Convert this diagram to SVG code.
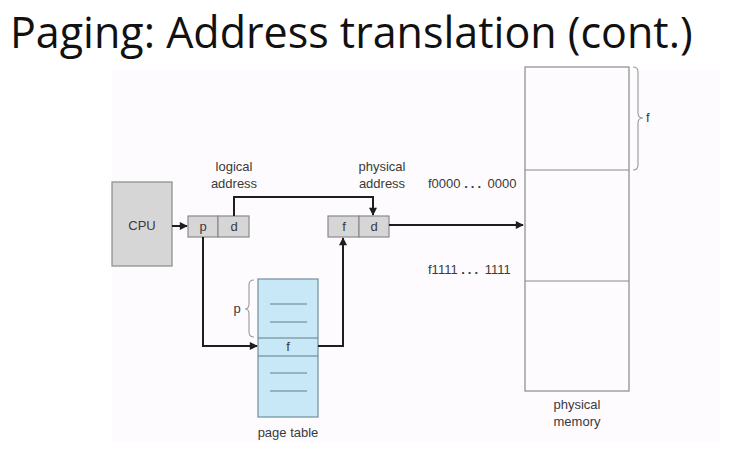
<svg xmlns="http://www.w3.org/2000/svg" width="736" height="449" viewBox="0 0 736 449">
  <style>
    .title { font-family: "Open Sans", "Noto Sans", sans-serif; font-size: 43px; fill: #111; }
    .lbl { font-family: "Liberation Sans", Arial, sans-serif; font-size: 13px; fill: #3a3a3a; }
    .dots { font-weight: bold; letter-spacing: 3px; }
    .cell { fill: #d6d6d6; stroke: #8a8a8a; stroke-width: 1.2; }
    .mem { fill: none; stroke: #8a8a8a; stroke-width: 1.2; }
    .pt { fill: #c8e8f7; stroke: #6f8f9c; stroke-width: 1.2; }
    .ptline { stroke: #5f7f8c; stroke-width: 1.2; }
    .brace { fill: none; stroke: #9a9a9a; stroke-width: 1.1; }
    .wire { fill: none; stroke: #1e1e1e; stroke-width: 2; }
  </style>
  <defs>
    <marker id="arrow" viewBox="0 0 10 10" refX="9" refY="5" markerWidth="4.5" markerHeight="4" orient="auto" markerUnits="strokeWidth">
      <path d="M0,0 L10,5 L0,10 z" fill="#1e1e1e"/>
    </marker>
  </defs>

  <rect x="0" y="0" width="736" height="449" fill="#ffffff"/>
  <rect x="112" y="70" width="608" height="372" fill="#fdfbfd"/>

  <text class="title" x="10" y="48">Paging: Address translation (cont.)</text>

  <!-- CPU -->
  <g id="cpu">
    <rect class="cell" x="112" y="182" width="60" height="84"/>
    <text class="lbl" x="142" y="230" text-anchor="middle">CPU</text>
  </g>

  <!-- logical address p | d -->
  <g id="logical-address">
    <rect class="cell" x="188" y="216" width="30" height="21"/>
    <rect class="cell" x="218" y="216" width="31" height="21"/>
    <text class="lbl" x="203" y="231" text-anchor="middle">p</text>
    <text class="lbl" x="234" y="231" text-anchor="middle">d</text>
    <text class="lbl" x="234" y="171" text-anchor="middle">logical</text>
    <text class="lbl" x="234" y="188" text-anchor="middle">address</text>
  </g>

  <!-- physical address f | d -->
  <g id="physical-address">
    <rect class="cell" x="328" y="216" width="31" height="21"/>
    <rect class="cell" x="359" y="216" width="30" height="21"/>
    <text class="lbl" x="344" y="231" text-anchor="middle">f</text>
    <text class="lbl" x="374" y="231" text-anchor="middle">d</text>
    <text class="lbl" x="382" y="171" text-anchor="middle">physical</text>
    <text class="lbl" x="382" y="188" text-anchor="middle">address</text>
  </g>

  <!-- page table -->
  <g id="page-table">
    <rect class="pt" x="258" y="279" width="60" height="138"/>
    <line class="ptline" x1="258" y1="338" x2="318" y2="338"/>
    <line class="ptline" x1="258" y1="356" x2="318" y2="356"/>
    <line class="ptline" x1="270" y1="304" x2="307" y2="304"/>
    <line class="ptline" x1="270" y1="322" x2="307" y2="322"/>
    <line class="ptline" x1="270" y1="373" x2="307" y2="373"/>
    <line class="ptline" x1="270" y1="391" x2="307" y2="391"/>
    <text class="lbl" x="288" y="351" text-anchor="middle">f</text>
    <path class="brace" d="M254,280 Q249,280 249,285 L249,304 Q249,309 245,309 Q249,309 249,314 L249,332 Q249,337 254,337"/>
    <text class="lbl" x="237" y="313" text-anchor="middle">p</text>
    <text class="lbl" x="288" y="437" text-anchor="middle">page table</text>
  </g>

  <!-- physical memory -->
  <g id="physical-memory">
    <rect class="mem" x="525" y="67" width="104" height="324"/>
    <line class="mem" x1="525" y1="170" x2="629" y2="170"/>
    <line class="mem" x1="525" y1="281" x2="629" y2="281"/>
    <path class="brace" d="M633,67 Q638,67 638,72 L638,113 Q638,118 643,118 Q638,118 638,123 L638,165 Q638,170 633,170"/>
    <text class="lbl" x="646" y="122">f</text>
    <text class="lbl" x="428" y="188">f0000 <tspan class="dots">...</tspan> 0000</text>
    <text class="lbl" x="428" y="274">f1111 <tspan class="dots">...</tspan> 1111</text>
    <text class="lbl" x="577" y="409" text-anchor="middle">physical</text>
    <text class="lbl" x="577" y="426" text-anchor="middle">memory</text>
  </g>

  <!-- connectors -->
  <g id="connectors">
    <path class="wire" d="M172,226 L187,226" marker-end="url(#arrow)"/>
    <path class="wire" d="M234,216 L234,197 L373,197 L373,215" marker-end="url(#arrow)"/>
    <path class="wire" d="M203,237 L203,346 L257,346" marker-end="url(#arrow)"/>
    <path class="wire" d="M318,346 L343,346 L343,238" marker-end="url(#arrow)"/>
    <path class="wire" d="M389,225 L523,225" marker-end="url(#arrow)"/>
  </g>
</svg>
